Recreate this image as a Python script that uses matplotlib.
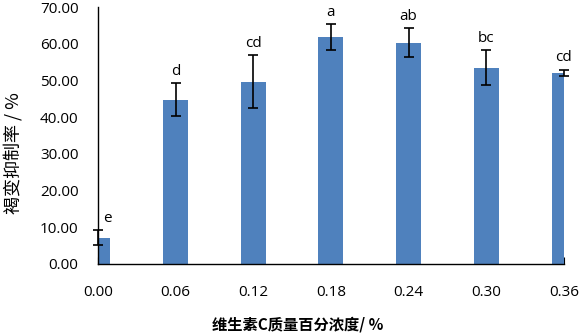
import matplotlib
matplotlib.use("Agg")
from matplotlib import pyplot as plt

concentrations = ["0.00", "0.06", "0.12", "0.18", "0.24", "0.30", "0.36"]
inhibition = [7.2, 44.7, 49.7, 61.9, 60.3, 53.5, 52.0]
errors = [2.05, 4.5, 7.2, 3.5, 4.0, 4.7, 0.9]
letters = ["e", "d", "cd", "a", "ab", "bc", "cd"]

plt.rcParams["font.family"] = ["Open Sans", "Noto Sans CJK SC", "DejaVu Sans"]
cjk = ["Noto Sans CJK SC", "DejaVu Sans"]

fig = plt.figure(figsize=(5.79, 3.35), dpi=100)
ax = fig.add_axes([0.169, 0.212, 0.805, 0.767])

pos = list(range(len(concentrations)))
ax.bar(pos, inhibition, width=0.32, color="#4F81BD", zorder=2)
ax.errorbar(pos, inhibition, yerr=errors, fmt="none", ecolor="black",
            elinewidth=1.2, capsize=3.5, capthick=1.2, zorder=3, clip_on=False)
for x, y, e, t in zip(pos, inhibition, errors, letters):
    ax.text(x + (0.12 if x == 0 else 0), y + e + 1.2, t, ha="center", va="bottom",
            fontsize=11)

ax.set_xlim(0, 6)
ax.set_ylim(0, 70)
ax.set_yticks(range(0, 71, 10))
ax.set_yticklabels([f"{v:.2f}" for v in range(0, 71, 10)])
ax.set_xticks(pos)
ax.set_xticklabels(concentrations)
ax.tick_params(axis="y", length=0, pad=14, labelsize=11)
ax.tick_params(axis="x", direction="in", length=5, pad=15, labelsize=11)

for s in ["top", "right"]:
    ax.spines[s].set_visible(False)
ax.spines["left"].set_linewidth(1.0)
ax.spines["bottom"].set_linewidth(1.0)

# axis titles placed where the original puts them (off-centre)
fig.text(298 / 579, 1 - 325 / 335, "维生素C质量百分浓度/ %", fontsize=11,
         fontweight="bold", family=cjk, ha="center", va="center")
fig.text(14 / 579, 1 - 153 / 335, "褐变抑制率 / %", fontsize=13, family=cjk,
         rotation=90, ha="center", va="center")

fig.savefig("out.png", dpi=100)
